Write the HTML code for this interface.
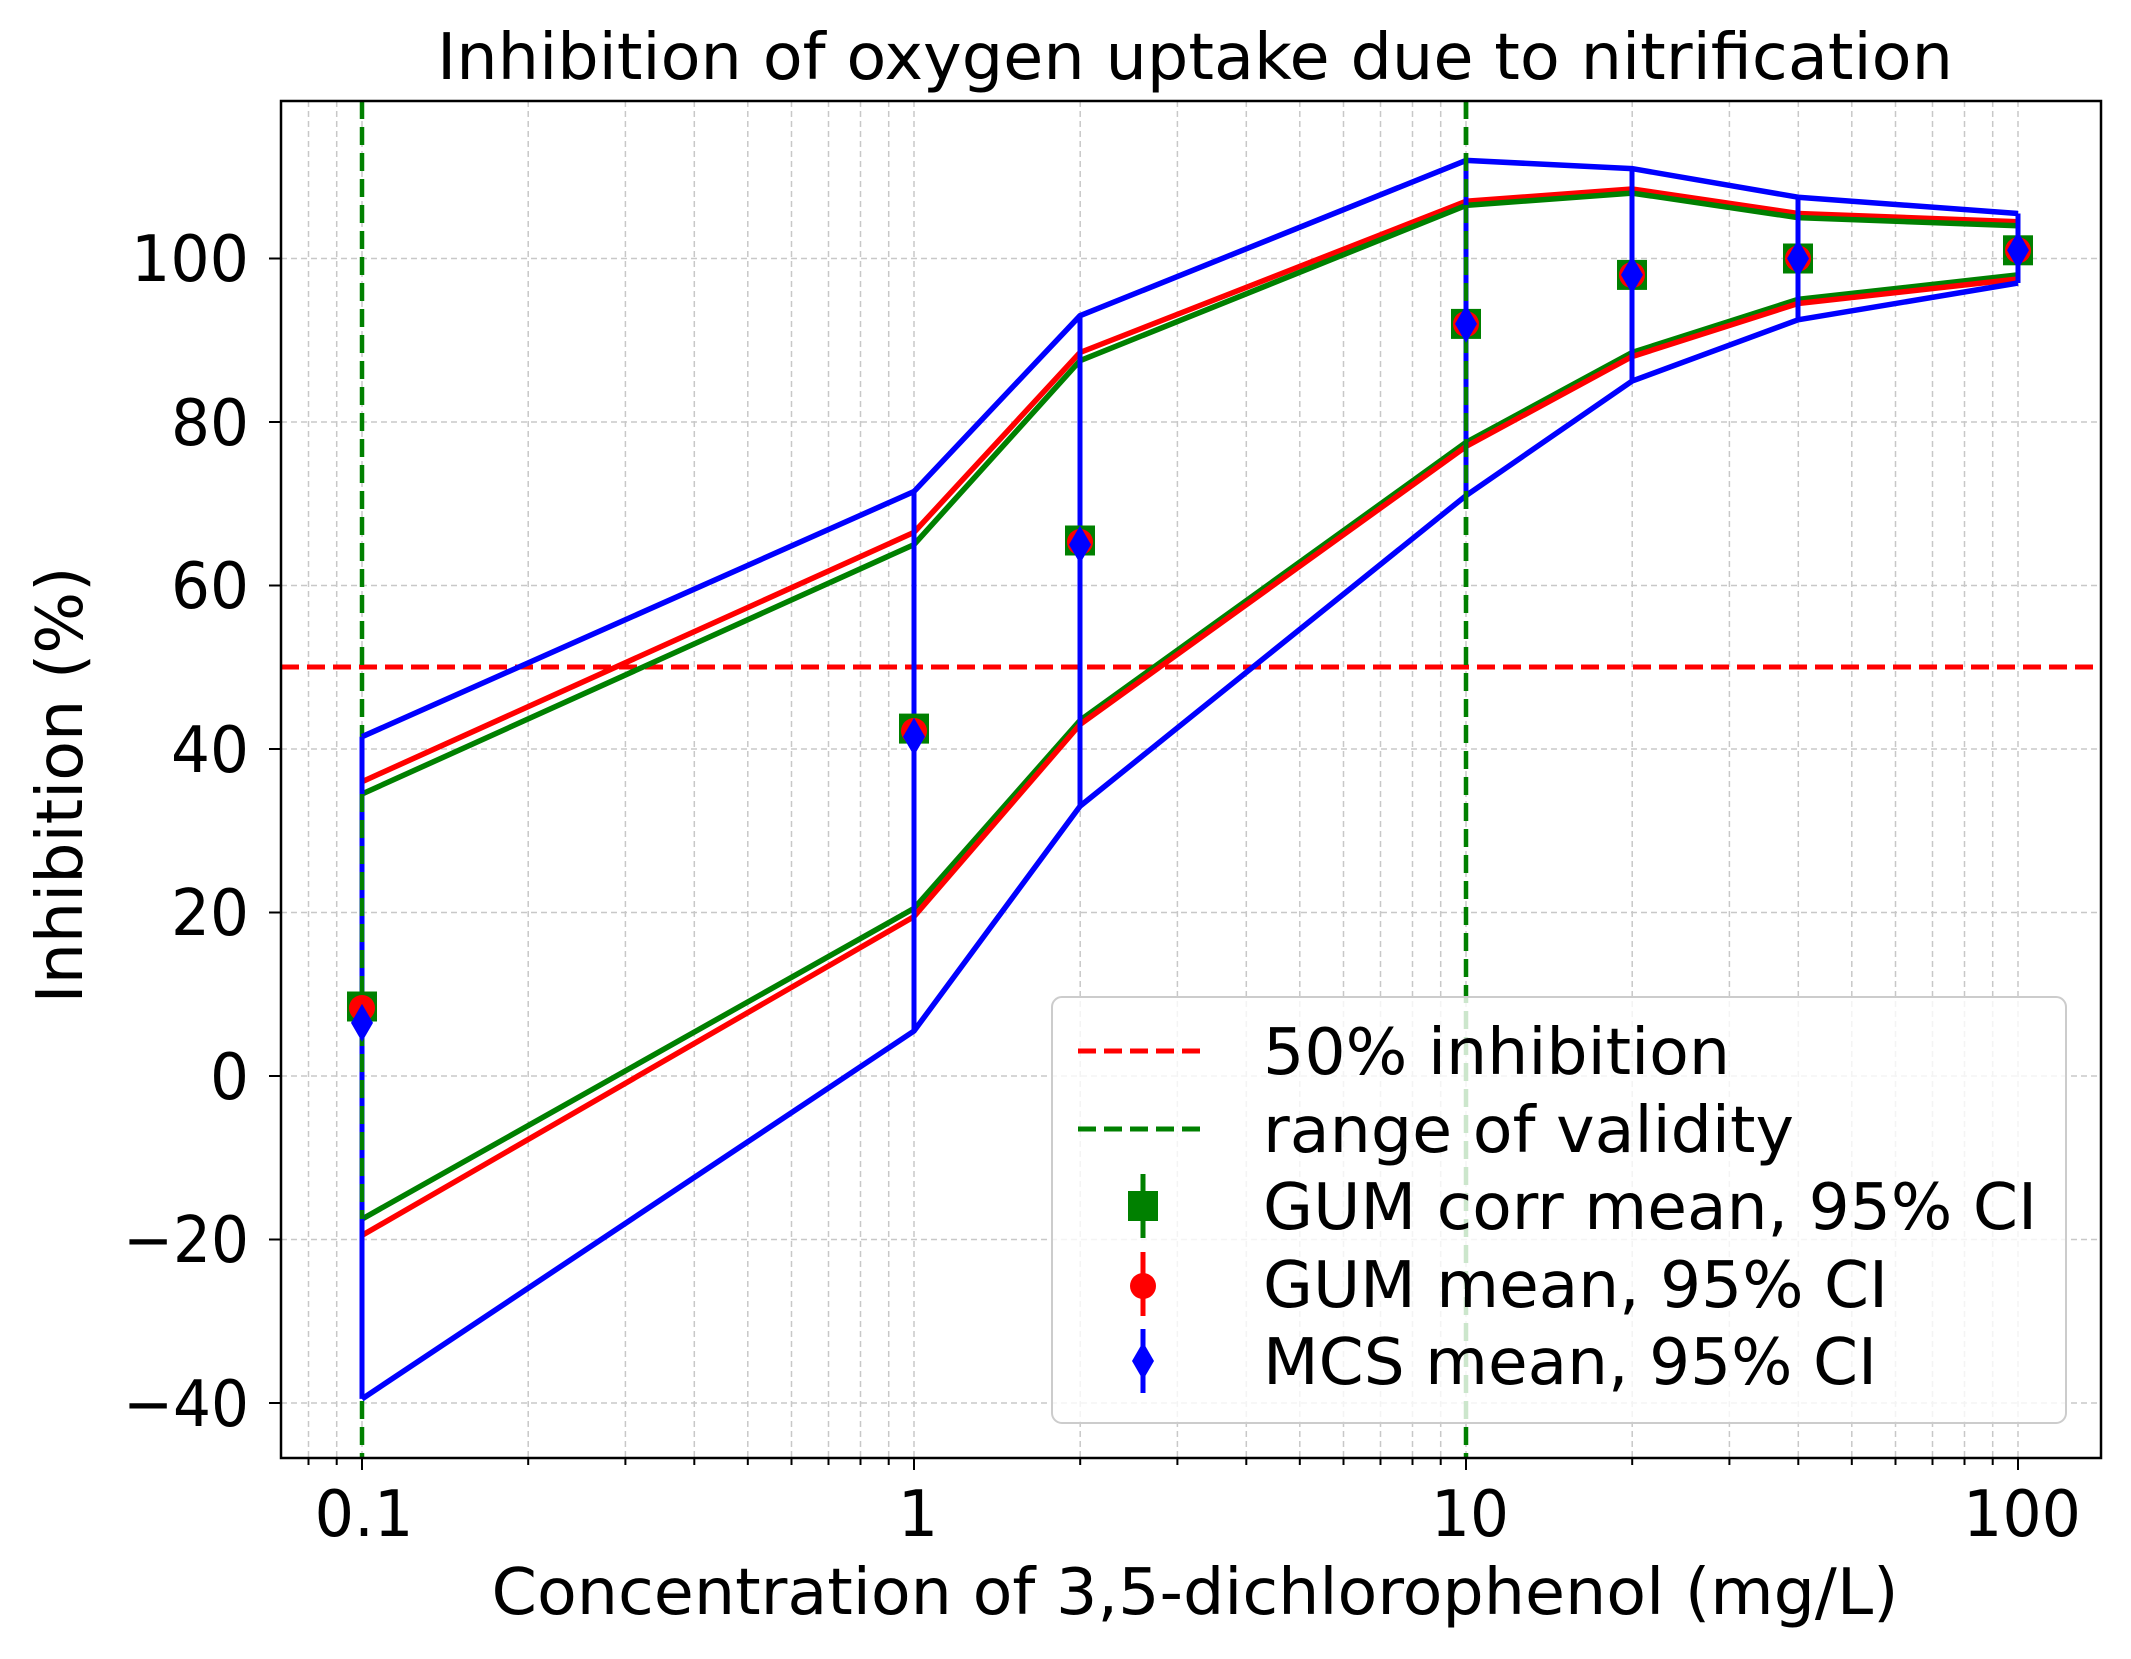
<!DOCTYPE html>
<html><head><meta charset="utf-8"><style>html,body{margin:0;padding:0;background:#fff}svg{display:block}</style></head>
<body>
<svg width="2131" height="1659" viewBox="0 0 2131 1659" xmlns="http://www.w3.org/2000/svg" font-family="DejaVu Sans, Liberation Sans, sans-serif">
<rect width="2131" height="1659" fill="#fff"/>
<g stroke="#c8c8c8" stroke-width="1.5" stroke-dasharray="6,4">
<path d="M308.5 101V1458M336.7 101V1458M528.2 101V1458M625.4 101V1458M694.3 101V1458M747.8 101V1458M791.5 101V1458M828.5 101V1458M860.5 101V1458M888.7 101V1458M1080.2 101V1458M1177.4 101V1458M1246.3 101V1458M1299.8 101V1458M1343.5 101V1458M1380.5 101V1458M1412.5 101V1458M1440.7 101V1458M1632.2 101V1458M1729.4 101V1458M1798.3 101V1458M1851.8 101V1458M1895.5 101V1458M1932.5 101V1458M1964.5 101V1458M1992.7 101V1458"/>
<path d="M362 101V1458M914 101V1458M1466 101V1458M2018 101V1458M281 258.5H2101M281 422H2101M281 585.5H2101M281 749H2101M281 912.5H2101M281 1076H2101M281 1239.5H2101M281 1403H2101"/>
</g>
<g stroke="#000" stroke-width="2">
<path d="M362 1458v12M914 1458v12M1466 1458v12M2018 1458v12M281 258.5h-12M281 422h-12M281 585.5h-12M281 749h-12M281 912.5h-12M281 1076h-12M281 1239.5h-12M281 1403h-12"/>
<path d="M308.5 1458v7M336.7 1458v7M528.2 1458v7M625.4 1458v7M694.3 1458v7M747.8 1458v7M791.5 1458v7M828.5 1458v7M860.5 1458v7M888.7 1458v7M1080.2 1458v7M1177.4 1458v7M1246.3 1458v7M1299.8 1458v7M1343.5 1458v7M1380.5 1458v7M1412.5 1458v7M1440.7 1458v7M1632.2 1458v7M1729.4 1458v7M1798.3 1458v7M1851.8 1458v7M1895.5 1458v7M1932.5 1458v7M1964.5 1458v7M1992.7 1458v7"/>
</g>
<path d="M281 667H2101" stroke="#ff0000" stroke-width="5" stroke-dasharray="18,8" fill="none"/>
<path d="M362 101V1458M1466 101V1458" stroke="#008000" stroke-width="4.5" stroke-dasharray="18,8" fill="none"/>
<g fill="none" stroke-width="5.5" stroke-linejoin="round">
<polyline stroke="#0000ff" points="362,736.7 914,491.5 1080,315.7 1466,160.4 1632,168.6 1798,197.2 2018,213.5"/>
<polyline stroke="#ff0000" points="362,781.7 914,532.4 1080,352.5 1466,201.3 1632,189 1798,213.5 2018,221.7"/>
<polyline stroke="#008000" points="362,794 914,544.6 1080,360.7 1466,205.4 1632,193.1 1798,217.6 2018,225.8"/>
<polyline stroke="#008000" points="362,1219.1 914,908.4 1080,720.4 1466,442.4 1632,352.5 1798,299.4 2018,274.9"/>
<polyline stroke="#ff0000" points="362,1235.4 914,916.6 1080,724.5 1466,446.5 1632,356.6 1798,303.5 2018,279"/>
<polyline stroke="#0000ff" points="362,1398.9 914,1031 1080,806.2 1466,495.6 1632,381.1 1798,319.8 2018,283"/>
</g>
<path d="M362 736.7V1398.9M914 491.5V1031M1080 315.7V806.2M1466 160.4V495.6M1632 168.6V381.1M1798 197.2V319.8M2018 213.5V283" stroke="#0000ff" stroke-width="5"/>
<path d="M362 794V1219" stroke="#008000" stroke-width="4.5" stroke-dasharray="18,8"/>
<path d="M1466 101V600" stroke="#008000" stroke-width="4.5" stroke-dasharray="18,8"/>
<g fill="#008000">
<rect x="347" y="991.5" width="30" height="30"/><rect x="899" y="713.6" width="30" height="30"/><rect x="1065" y="525.5" width="30" height="30"/><rect x="1451" y="308.9" width="30" height="30"/><rect x="1617" y="259.9" width="30" height="30"/><rect x="1783" y="243.5" width="30" height="30"/><rect x="2003" y="235.3" width="30" height="30"/>
</g>
<g fill="#ff0000">
<circle cx="362" cy="1008" r="13"/><circle cx="914" cy="731" r="13"/><circle cx="1080" cy="542" r="13"/><circle cx="1466" cy="324" r="13"/><circle cx="1632" cy="275" r="13"/><circle cx="1798" cy="258.5" r="13"/><circle cx="2018" cy="250.3" r="13"/>
</g>
<g fill="#0000ff">
<path d="M362 1003.9l11 19l-11 19l-11-19z"/><path d="M914 717.7l11 19l-11 19l-11-19z"/><path d="M1080 525.6l11 19l-11 19l-11-19z"/><path d="M1466 304.9l11 19l-11 19l-11-19z"/><path d="M1632 255.9l11 19l-11 19l-11-19z"/><path d="M1798 239.5l11 19l-11 19l-11-19z"/><path d="M2018 231.3l11 19l-11 19l-11-19z"/>
</g>
<rect x="281" y="101" width="1820" height="1357" fill="none" stroke="#000" stroke-width="2.5"/>
<rect x="1052" y="997" width="1014" height="426" rx="10" fill="#fff" fill-opacity="0.8" stroke="#cccccc" stroke-width="2"/>
<path d="M1078 1051H1206" stroke="#ff0000" stroke-width="5" stroke-dasharray="18,8"/>
<path d="M1078 1129H1206" stroke="#008000" stroke-width="5" stroke-dasharray="18,8"/>
<path d="M1143 1174V1238" stroke="#008000" stroke-width="5"/><rect x="1128" y="1191" width="30" height="30" fill="#008000"/>
<path d="M1143 1252V1316" stroke="#ff0000" stroke-width="5"/><circle cx="1143" cy="1286" r="13" fill="#ff0000"/>
<path d="M1143 1329V1393" stroke="#0000ff" stroke-width="5"/><path d="M1143 1342l11 19l-11 19l-11-19z" fill="#0000ff"/>
<g font-size="64" fill="#000">
<text x="1263" y="1074" textLength="467" lengthAdjust="spacingAndGlyphs">50% inhibition</text>
<text x="1263" y="1152" textLength="531" lengthAdjust="spacingAndGlyphs">range of validity</text>
<text x="1263" y="1229" textLength="774" lengthAdjust="spacingAndGlyphs">GUM corr mean, 95% CI</text>
<text x="1263" y="1307" textLength="625" lengthAdjust="spacingAndGlyphs">GUM mean, 95% CI</text>
<text x="1263" y="1384" textLength="614" lengthAdjust="spacingAndGlyphs">MCS mean, 95% CI</text>
</g>
<g font-size="64" fill="#000" text-anchor="end">
<text x="249" y="281" textLength="118" lengthAdjust="spacingAndGlyphs">100</text>
<text x="249" y="445" textLength="78" lengthAdjust="spacingAndGlyphs">80</text>
<text x="249" y="608" textLength="78" lengthAdjust="spacingAndGlyphs">60</text>
<text x="249" y="772" textLength="78" lengthAdjust="spacingAndGlyphs">40</text>
<text x="249" y="935" textLength="78" lengthAdjust="spacingAndGlyphs">20</text>
<text x="249" y="1099" textLength="39" lengthAdjust="spacingAndGlyphs">0</text>
<text x="249" y="1262" textLength="126" lengthAdjust="spacingAndGlyphs">−20</text>
<text x="249" y="1426" textLength="126" lengthAdjust="spacingAndGlyphs">−40</text>
</g>
<g font-size="64" fill="#000" text-anchor="middle">
<text x="364" y="1536" textLength="99" lengthAdjust="spacingAndGlyphs">0.1</text>
<text x="918" y="1536">1</text>
<text x="1470" y="1536" textLength="78" lengthAdjust="spacingAndGlyphs">10</text>
<text x="2022" y="1536" textLength="118" lengthAdjust="spacingAndGlyphs">100</text>
<text x="1195" y="1614" textLength="1407" lengthAdjust="spacingAndGlyphs">Concentration of 3,5-dichlorophenol (mg/L)</text>
<text x="1195" y="79" textLength="1516" lengthAdjust="spacingAndGlyphs">Inhibition of oxygen uptake due to nitrification</text>
<text transform="translate(82,785) rotate(-90)" textLength="437" lengthAdjust="spacingAndGlyphs">Inhibition (%)</text>
</g>
</svg>
</body></html>
